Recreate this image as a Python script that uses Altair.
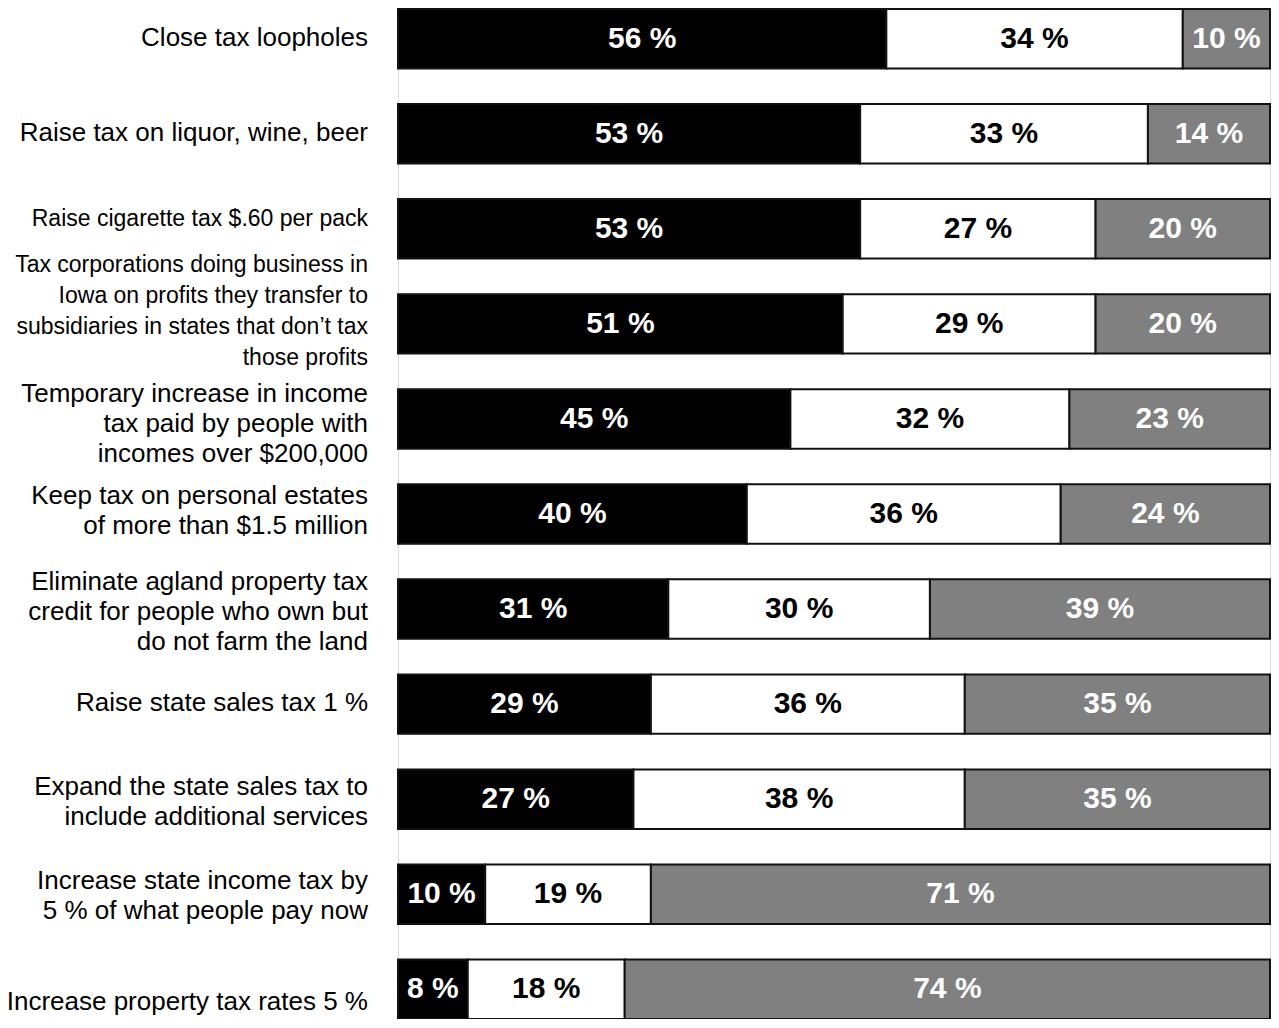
import altair as alt
import pandas as pd

# ---- data ----
items = [
    "Close tax loopholes",
    "Raise tax on liquor, wine, beer",
    "Raise cigarette tax $.60 per pack",
    "Tax corporations doing business in\nIowa on profits they transfer to\nsubsidiaries in states that don\u2019t tax\nthose profits",
    "Temporary increase in income\ntax paid by people with\nincomes over $200,000",
    "Keep tax on personal estates\nof more than $1.5 million",
    "Eliminate agland property tax\ncredit for people who own but\ndo not farm the land",
    "Raise state sales tax 1 %",
    "Expand the state sales tax to\ninclude additional services",
    "Increase state income tax by\n5 % of what people pay now",
    "Increase property tax rates 5 %",
]
categories = ["Favor", "Not sure", "Oppose"]
favor = [56, 53, 53, 51, 45, 40, 31, 29, 27, 10, 8]
not_sure = [34, 33, 27, 29, 32, 36, 30, 36, 38, 19, 18]
oppose = [10, 14, 20, 20, 23, 24, 39, 35, 35, 71, 74]

# ---- style ----
FILL = ["#000000", "#ffffff", "#808080"]
TEXT_COL = {"Favor": "#ffffff", "Not sure": "#000000", "Oppose": "#ffffff"}
SMALL_ROWS = [items[2], items[3]]
# vertical nudge (px) of each row label relative to its bar centre, as in the reference layout
LABEL_NUDGE = [-1, -1, -10, -12, 5, -3, 3, -1, 3, 2, 13]
FONT = "Liberation Sans, Arial, Helvetica, sans-serif"

rows = []
for i, it in enumerate(items):
    for k, (cat, vals) in enumerate(zip(categories, [favor, not_sure, oppose])):
        rows.append({"item": it, "cat": cat, "ord": k, "value": vals[i],
                     "label": f"{vals[i]} %", "tcolor": TEXT_COL[cat]})
df = pd.DataFrame(rows)
ldf = pd.DataFrame({"item": items})

yenc = alt.Y("item:N", sort=items, axis=None,
             scale=alt.Scale(paddingInner=0.375, paddingOuter=0))

bars = alt.Chart(df).mark_bar(stroke="#111111", strokeWidth=2).encode(
    y=yenc,
    x=alt.X("value:Q", stack="zero", axis=None,
            scale=alt.Scale(domain=[0, 100], nice=False, zero=True)),
    color=alt.Color("cat:N", scale=alt.Scale(domain=categories, range=FILL), legend=None),
    order=alt.Order("ord:Q"),
)

pct = alt.Chart(df).transform_stack(
    stack="value", groupby=["item"], as_=["x0", "x1"],
    sort=[alt.SortField("ord", order="ascending")],
).transform_calculate(mid="(datum.x0 + datum.x1) / 2").mark_text(
    font=FONT, fontSize=30, fontWeight="bold", baseline="middle", align="center"
).encode(
    y=yenc,
    x=alt.X("mid:Q"),
    text="label:N",
    color=alt.Color("tcolor:N", scale=None),
)

# row labels: one layer per row so each text block sits where the reference has it
label_layers = []
for it, nudge in zip(items, LABEL_NUDGE):
    small = it in SMALL_ROWS
    n = it.count("\n") + 1
    fs, lh = (23, 31) if small else (26, 30)
    label_layers.append(
        alt.Chart(ldf).transform_filter(
            alt.FieldEqualPredicate(field="item", equal=it)
        ).mark_text(
            font=FONT, fontSize=fs, lineHeight=lh, align="right", baseline="middle",
            lineBreak="\n", color="#000000", x=-30, dy=-(n - 1) * lh / 2 + nudge,
        ).encode(y=yenc, text="item:N")
    )

chart = alt.layer(bars, pct, *label_layers).properties(
    width=872, height=1010,
    autosize=alt.AutoSizeParams(type="none"),
    padding={"left": 390, "top": 1, "right": 1, "bottom": 0},
).configure_view(stroke="transparent", strokeWidth=0).configure(background="#ffffff")

chart.save("out.html", embed_options={"renderer": "svg", "actions": False})
